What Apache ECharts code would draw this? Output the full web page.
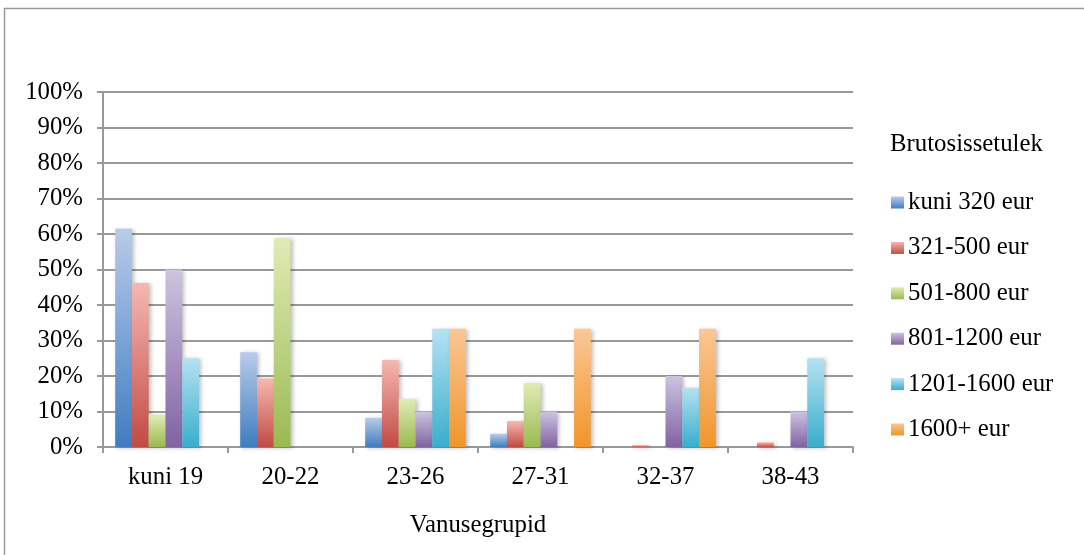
<!DOCTYPE html>
<html>
<head>
<meta charset="utf-8">
<script src="https://cdn.jsdelivr.net/npm/echarts@6/dist/echarts.min.js"></script>
<style>
html,body{margin:0;padding:0;background:#fff;}
#chart{width:1084px;height:555px;}
</style>
</head>
<body>
<div id="chart"></div>
<script>
var categories = ['kuni 19', '20-22', '23-26', '27-31', '32-37', '38-43'];
var seriesNames = ['kuni 320 eur', '321-500 eur', '501-800 eur', '801-1200 eur', '1201-1600 eur', '1600+ eur'];
var kuni320 = [61.5, 26.7, 8.2, 3.7, 0, 0];
var eur321_500 = [46.2, 19.3, 24.5, 7.3, 0.5, 1.3];
var eur501_800 = [9.1, 58.8, 13.5, 18.0, 0, 0];
var eur801_1200 = [50.0, 0, 10.0, 10.0, 20.0, 10.0];
var eur1201_1600 = [25.0, 0, 33.3, 0, 16.7, 25.0];
var eur1600plus = [0, 0, 33.3, 33.3, 33.3, 0];
var yTicks = [0, 10, 20, 30, 40, 50, 60, 70, 80, 90, 100];

var values = [kuni320, eur321_500, eur501_800, eur801_1200, eur1201_1600, eur1600plus];
var gradients = [
  ['#b9cbe9', '#3f7dc0'],
  ['#f5b8b2', '#c24a44'],
  ['#e0ebb5', '#9aba50'],
  ['#cdc4e0', '#8162a3'],
  ['#b6e1f3', '#38aecb'],
  ['#fac796', '#f0952a']
];
var FONT = "'Liberation Serif', 'Times New Roman', serif";
var FS = 24.8;

var chart = echarts.init(document.getElementById('chart'), null, {renderer: 'canvas'});
var series = seriesNames.map(function (name, i) {
  return {
    name: name,
    type: 'bar',
    data: values[i],
    barGap: '0%',
    barCategoryGap: '19.5%',
    itemStyle: {
      color: new echarts.graphic.LinearGradient(0, 0, 0, 1, [
        {offset: 0, color: gradients[i][0]},
        {offset: 1, color: gradients[i][1]}
      ]),
      shadowColor: 'rgba(0,0,0,0.25)',
      shadowBlur: 4,
      shadowOffsetX: 2,
      shadowOffsetY: 1
    },
    emphasis: {disabled: true}
  };
});

chart.setOption({
  animation: false,
  backgroundColor: '#fff',
  graphic: [{
    type: 'rect',
    shape: {x: 4.5, y: 8.5, width: 1200, height: 700},
    style: {fill: 'none', stroke: '#9a9a9a', lineWidth: 1.5},
    silent: true
  }],
  title: {
    text: 'Brutosissetulek',
    left: 890,
    top: 132,
    padding: 0,
    textStyle: {fontFamily: FONT, fontSize: FS, fontWeight: 'normal', color: '#000'}
  },
  legend: {
    orient: 'vertical',
    left: 891,
    top: 190,
    padding: 0,
    itemWidth: 13,
    itemHeight: 12,
    itemGap: 20.4,
    icon: 'rect',
    selectedMode: false,
    textStyle: {fontFamily: FONT, fontSize: FS, color: '#000', lineHeight: 24, padding: [0, 0, 0, -1]},
    data: seriesNames
  },
  grid: {left: 103, right: 231, top: 92, bottom: 108, containLabel: false},
  xAxis: {
    type: 'category',
    data: categories,
    name: 'Vanusegrupid',
    nameLocation: 'middle',
    nameGap: 66,
    nameTextStyle: {fontFamily: FONT, fontSize: FS, color: '#000'},
    axisLine: {lineStyle: {color: '#999', width: 2}},
    axisTick: {show: true, length: 6, lineStyle: {color: '#999', width: 2}},
    axisLabel: {fontFamily: FONT, fontSize: FS, color: '#000', margin: 18}
  },
  yAxis: {
    type: 'value',
    min: yTicks[0],
    max: yTicks[yTicks.length - 1],
    interval: 10,
    axisLine: {show: true, lineStyle: {color: '#999', width: 2}},
    axisTick: {show: true, length: 6, lineStyle: {color: '#999', width: 2}},
    axisLabel: {fontFamily: FONT, fontSize: FS, color: '#000', margin: 20, formatter: '{value}%'},
    splitLine: {show: true, lineStyle: {color: '#999', width: 2}}
  },
  series: series
});
</script>
</body>
</html>
